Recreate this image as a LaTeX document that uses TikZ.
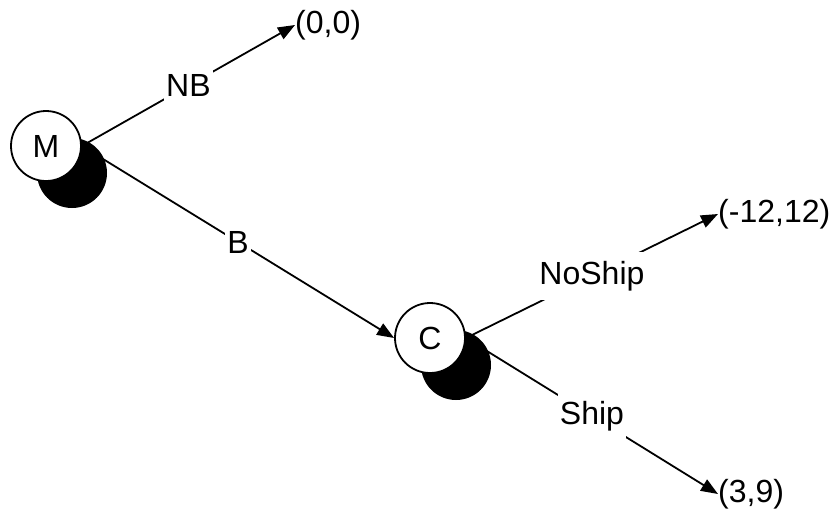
\documentclass[tikz,border=0pt]{standalone}
\usepackage{fontspec}
\setmainfont{Liberation Sans}
\usetikzlibrary{arrows.meta,shadows,backgrounds}
\tikzset{
  chance/.style={circle, draw, line width=1.8pt, fill=white, minimum size=70pt, inner sep=0pt,
    drop shadow={shadow xshift=26pt, shadow yshift=-27pt, fill=black, opacity=1}},
  leaf/.style={anchor=west, inner sep=0pt},
  branch/.style={line width=1.8pt, -{Triangle[length=17pt,width=13pt]}},
  choice/.style={fill=white, inner xsep=2pt, inner ysep=9pt}
}
\begin{document}
\begin{tikzpicture}[x=1pt,y=-1pt,font=\fontsize{32}{38}\selectfont]
        \useasboundingbox (0,0) rectangle (832,512);
        % Define nodes
        \node[chance] (M) at (46,146) {M};
        \node[chance] (C) at (430,338) {C};
        \node[leaf] (nb) at (295,25) {(0,0)};
        \node[leaf] (noship) at (718,214) {(-12,12)};
        \node[leaf] (ship) at (718,494) {(3,9)};
        
        % Draw branches
        \begin{scope}[on background layer]
        \draw[branch] (M.east) -- (nb.west) node[choice, midway] {NB};
        \draw[branch] (M.east) -- (C.west) node[choice, midway] {B};
        \draw[branch] (C.east) -- (noship.west) node[choice, midway] {NoShip};
        \draw[branch] (C.east) -- (ship.west) node[choice, midway] {Ship};
        \end{scope}
    \end{tikzpicture}
\end{document}
